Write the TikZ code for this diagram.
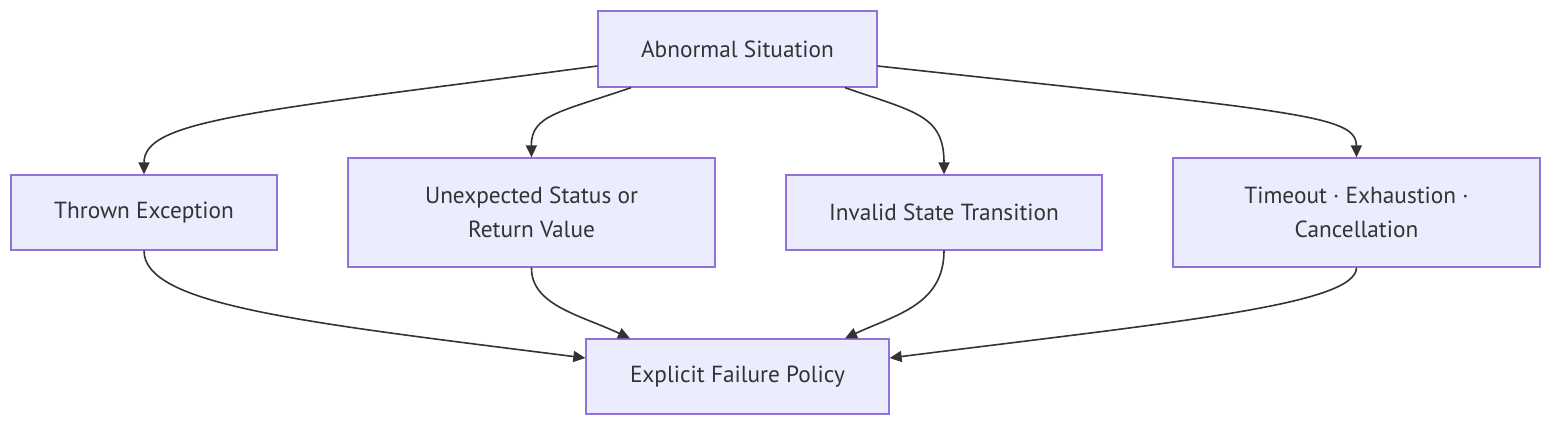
\documentclass[tikz,border=0pt]{standalone}
\usepackage{fontspec}
\setmainfont{PT Sans}
\usetikzlibrary{arrows.meta,calc}
\definecolor{boxfill}{HTML}{ECECFF}
\definecolor{boxline}{HTML}{9370DB}
\definecolor{ink}{HTML}{333333}
\begin{document}
\begin{tikzpicture}[x=1pt,y=-1pt,
  box/.style={draw=boxline,fill=boxfill,line width=1.3pt,inner sep=0pt,
    text=ink,align=center,font=\fontsize{23.3}{34}\selectfont},
  edge/.style={draw=ink,line width=1.6pt,-{Triangle[length=12pt,width=11pt]}}]
\useasboundingbox (0,0) rectangle (1568,432);
\node[box,minimum width=279pt,minimum height=76pt] (A) at (737.5,49) {Abnormal Situation};
\node[box,minimum width=266pt,minimum height=75pt] (T) at (144,212.5) {Thrown Exception};
\node[box,minimum width=367pt,minimum height=109pt] (U) at (531.5,212.5) {Unexpected Status or\\Return Value};
\node[box,minimum width=316pt,minimum height=75pt] (I) at (944,212.5) {Invalid State Transition};
\node[box,minimum width=367pt,minimum height=109pt] (O) at (1356.5,212.5) {Timeout · Exhaustion ·\\Cancellation};
\node[box,minimum width=303pt,minimum height=75pt] (E) at (737.5,376.5) {Explicit Failure Policy};

\draw[edge] ([yshift=-17pt]A.west) .. controls (250,112) and (144,120) .. (T.north);
\draw[edge] ([xshift=-106.5pt]A.south) .. controls (560,112) and (531,115) .. (U.north);
\draw[edge] ([xshift=107.5pt]A.south) .. controls (915,112) and (944,115) .. (I.north);
\draw[edge] ([yshift=-17pt]A.east) .. controls (1300,112) and (1356,115) .. (O.north);

\draw[edge] (T.south) .. controls (144,305) and (300,322) .. ([yshift=18.5pt]E.west);
\draw[edge] (U.south) .. controls (531,305) and (580,315) .. ([xshift=-107.5pt]E.north);
\draw[edge] (I.south) .. controls (944,305) and (895,315) .. ([xshift=107.5pt]E.north);
\draw[edge] (O.south) .. controls (1356,305) and (1175,322) .. ([yshift=18.5pt]E.east);
\end{tikzpicture}
\end{document}
